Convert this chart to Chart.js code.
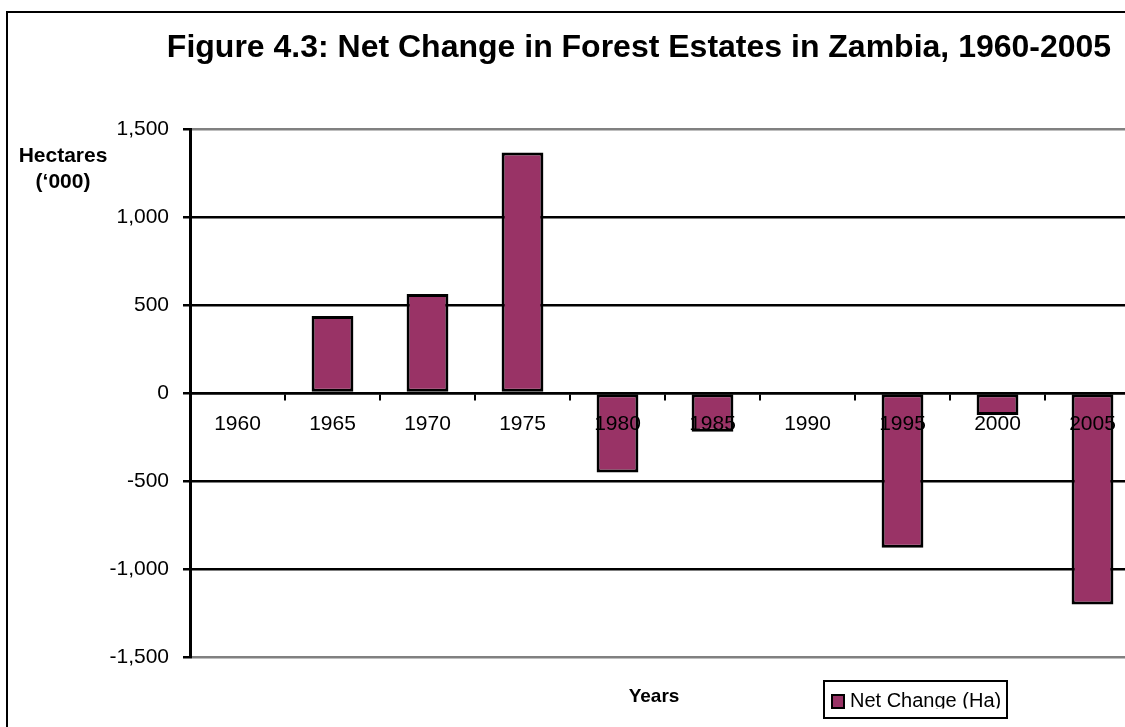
<!DOCTYPE html>
<html>
<head>
<meta charset="utf-8">
<title>Net Change in Forest Estates in Zambia, 1960-2005</title>
<script src="https://cdn.jsdelivr.net/npm/chart.js@4/dist/chart.umd.min.js"></script>
<style>
  html, body { margin: 0; padding: 0; background: #fff; overflow: hidden; }
  #wrap { position: relative; width: 1125px; height: 727px; overflow: hidden; }
  #chart { position: absolute; left: 0; top: 0; }
</style>
</head>
<body>
<div id="wrap"><canvas id="chart" width="1160" height="745"></canvas></div>
<script>
// Census years on the category axis
const years = ['1960', '1965', '1970', '1975', '1980', '1985', '1990', '1995', '2000', '2005'];
// Net change in forest estate area, thousand hectares
const netChange = [0, 438, 563, 1366, -452, -220, 0, -879, -125, -1201];
// Value axis range and tick step
const yMin = -1500;
const yMax = 1500;
const yStep = 500;

const titleText = 'Figure 4.3: Net Change in Forest Estates in Zambia, 1960-2005';
const yTitleLines = ['Hectares', '(\u2018000)'];
const xTitleText = 'Years';
const seriesName = 'Net Change (Ha)';

const FONT = '"Liberation Sans", Arial, sans-serif';
const BAR_FILL = '#993366';

// Frame, titles and the boxed legend
const decor = {
  id: 'decor',
  afterDraw(chart) {
    const ctx = chart.ctx;
    ctx.save();
    // outer frame
    ctx.strokeStyle = '#000';
    ctx.lineWidth = 2;
    ctx.strokeRect(7, 12, 1160, 760);

    ctx.fillStyle = '#000';
    ctx.textBaseline = 'alphabetic';
    ctx.textAlign = 'center';
    ctx.font = 'bold 32px ' + FONT;
    ctx.fillText(titleText, 639, 57);

    ctx.font = 'bold 21px ' + FONT;
    ctx.fillText(yTitleLines[0], 63, 162);
    ctx.fillText(yTitleLines[1], 63, 188);

    ctx.font = 'bold 19px ' + FONT;
    ctx.fillText(xTitleText, 654, 702);

    // legend box
    ctx.lineWidth = 2;
    ctx.strokeRect(824, 681, 183, 37);
    ctx.fillStyle = chart.data.datasets[0].backgroundColor;
    ctx.fillRect(832, 695, 12, 13);
    ctx.strokeRect(832, 695, 12, 13);
    ctx.save();
    ctx.beginPath();
    ctx.rect(825, 682, 181, 26.5);
    ctx.clip();
    ctx.fillStyle = '#000';
    ctx.textAlign = 'left';
    ctx.font = '20px ' + FONT;
    ctx.fillText(chart.data.datasets[0].label, 850, 707);
    ctx.restore();
    ctx.restore();
  }
};

new Chart(document.getElementById('chart'), {
  type: 'bar',
  data: {
    labels: years,
    datasets: [{
      label: seriesName,
      data: netChange,
      backgroundColor: BAR_FILL,
      borderColor: '#000',
      borderWidth: 3,
      borderSkipped: false,
      categoryPercentage: 1,
      barPercentage: 0.44
    }]
  },
  options: {
    responsive: false,
    animation: false,
    layout: { padding: { left: 0, top: 129, right: 20, bottom: 88 } },
    plugins: {
      legend: { display: false },
      tooltip: { enabled: false },
      title: { display: false }
    },
    scales: {
      x: {
        type: 'category',
        position: { y: 0 },
        offset: true,
        grid: {
          offset: true,
          drawOnChartArea: false,
          drawTicks: true,
          tickLength: 6,
          tickColor: '#000',
          lineWidth: 2
        },
        border: { display: true, color: '#000', width: 2.5 },
        ticks: {
          z: 1,
          color: '#000',
          font: { family: FONT, size: 21 },
          padding: 13,
          maxRotation: 0,
          autoSkip: false
        }
      },
      y: {
        min: yMin,
        max: yMax,
        position: 'left',
        afterFit(scale) { scale.width = 190; },
        grid: {
          color(c) {
            const v = c.tick && c.tick.value;
            return (v === yMin || v === yMax) ? '#808080' : '#000';
          },
          tickColor: '#000',
          tickLength: 7,
          lineWidth: 2.5
        },
        border: { display: true, color: '#000', width: 3 },
        ticks: {
          stepSize: yStep,
          color: '#000',
          font: { family: FONT, size: 21 },
          padding: 14,
          callback: (v) => Number(v).toLocaleString('en-US')
        }
      }
    }
  },
  plugins: [decor]
});
</script>
</body>
</html>
